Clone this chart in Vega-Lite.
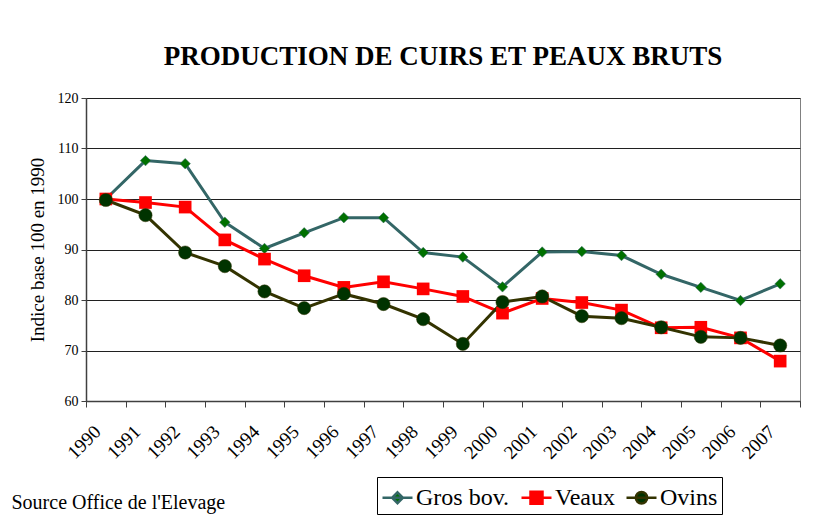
{
  "$schema": "https://vega.github.io/schema/vega-lite/v6.json",
  "width": 714,
  "height": 303,
  "autosize": {"type": "none"},
  "padding": {"left": 86, "top": 98, "right": 14, "bottom": 114},
  "background": "white",
  "title": {
    "text": "PRODUCTION DE CUIRS ET PEAUX BRUTS",
    "font": "Liberation Serif",
    "fontSize": 27,
    "fontWeight": "bold",
    "color": "black",
    "anchor": "middle",
    "offset": 20
  },
  "config": {
    "font": "Liberation Serif",
    "view": {"stroke": "#808080", "strokeWidth": 1},
    "axis": {"labelFont": "Liberation Serif", "titleFont": "Liberation Serif", "labelColor": "black", "titleColor": "black"},
    "legend": {"labelFont": "Liberation Serif", "titleFont": "Liberation Serif"}
  },
  "data": {
    "values": [
      {"annee": "1990", "serie": "Gros bov.", "indice": 100},
      {"annee": "1991", "serie": "Gros bov.", "indice": 107.6},
      {"annee": "1992", "serie": "Gros bov.", "indice": 107.0},
      {"annee": "1993", "serie": "Gros bov.", "indice": 95.4},
      {"annee": "1994", "serie": "Gros bov.", "indice": 90.2},
      {"annee": "1995", "serie": "Gros bov.", "indice": 93.3},
      {"annee": "1996", "serie": "Gros bov.", "indice": 96.3},
      {"annee": "1997", "serie": "Gros bov.", "indice": 96.3},
      {"annee": "1998", "serie": "Gros bov.", "indice": 89.4},
      {"annee": "1999", "serie": "Gros bov.", "indice": 88.5},
      {"annee": "2000", "serie": "Gros bov.", "indice": 82.6},
      {"annee": "2001", "serie": "Gros bov.", "indice": 89.5},
      {"annee": "2002", "serie": "Gros bov.", "indice": 89.6},
      {"annee": "2003", "serie": "Gros bov.", "indice": 88.8},
      {"annee": "2004", "serie": "Gros bov.", "indice": 85.1},
      {"annee": "2005", "serie": "Gros bov.", "indice": 82.5},
      {"annee": "2006", "serie": "Gros bov.", "indice": 79.9},
      {"annee": "2007", "serie": "Gros bov.", "indice": 83.2},
      {"annee": "1990", "serie": "Veaux", "indice": 100},
      {"annee": "1991", "serie": "Veaux", "indice": 99.3},
      {"annee": "1992", "serie": "Veaux", "indice": 98.4},
      {"annee": "1993", "serie": "Veaux", "indice": 91.9},
      {"annee": "1994", "serie": "Veaux", "indice": 88.1},
      {"annee": "1995", "serie": "Veaux", "indice": 84.8},
      {"annee": "1996", "serie": "Veaux", "indice": 82.5},
      {"annee": "1997", "serie": "Veaux", "indice": 83.6},
      {"annee": "1998", "serie": "Veaux", "indice": 82.2},
      {"annee": "1999", "serie": "Veaux", "indice": 80.7},
      {"annee": "2000", "serie": "Veaux", "indice": 77.4},
      {"annee": "2001", "serie": "Veaux", "indice": 80.3},
      {"annee": "2002", "serie": "Veaux", "indice": 79.5},
      {"annee": "2003", "serie": "Veaux", "indice": 78.0},
      {"annee": "2004", "serie": "Veaux", "indice": 74.5},
      {"annee": "2005", "serie": "Veaux", "indice": 74.6},
      {"annee": "2006", "serie": "Veaux", "indice": 72.5},
      {"annee": "2007", "serie": "Veaux", "indice": 67.9},
      {"annee": "1990", "serie": "Ovins", "indice": 99.8},
      {"annee": "1991", "serie": "Ovins", "indice": 96.8},
      {"annee": "1992", "serie": "Ovins", "indice": 89.4},
      {"annee": "1993", "serie": "Ovins", "indice": 86.7},
      {"annee": "1994", "serie": "Ovins", "indice": 81.7},
      {"annee": "1995", "serie": "Ovins", "indice": 78.4},
      {"annee": "1996", "serie": "Ovins", "indice": 81.2},
      {"annee": "1997", "serie": "Ovins", "indice": 79.2},
      {"annee": "1998", "serie": "Ovins", "indice": 76.2},
      {"annee": "1999", "serie": "Ovins", "indice": 71.3},
      {"annee": "2000", "serie": "Ovins", "indice": 79.6},
      {"annee": "2001", "serie": "Ovins", "indice": 80.7},
      {"annee": "2002", "serie": "Ovins", "indice": 76.8},
      {"annee": "2003", "serie": "Ovins", "indice": 76.4},
      {"annee": "2004", "serie": "Ovins", "indice": 74.6},
      {"annee": "2005", "serie": "Ovins", "indice": 72.7},
      {"annee": "2006", "serie": "Ovins", "indice": 72.5},
      {"annee": "2007", "serie": "Ovins", "indice": 71.0}
    ]
  },
  "encoding": {
    "x": {
      "field": "annee",
      "type": "ordinal",
      "scale": {"type": "band", "paddingInner": 0, "paddingOuter": 0},
      "axis": {
        "title": "Source Office de l'Elevage",
        "titleFontSize": 20,
        "titleFontWeight": "normal",
        "titleAnchor": "start",
        "titleAlign": "left",
        "titleBaseline": "alphabetic",
        "titleX": -75,
        "titleY": 107,
        "labelAngle": -45,
        "labelFontSize": 19,
        "labelPadding": 15,
        "labelOffset": -15,
        "tickBand": "extent",
        "tickSize": 6,
        "tickColor": "#404040",
        "domainColor": "#404040",
        "domainWidth": 1.5,
        "grid": false
      }
    },
    "y": {
      "field": "indice",
      "type": "quantitative",
      "scale": {"domain": [60, 120], "nice": false, "zero": false},
      "axis": {
        "title": "Indice base 100 en 1990",
        "titleFontSize": 19,
        "titleFontWeight": "normal",
        "titlePadding": 10,
        "values": [60, 70, 80, 90, 100, 110, 120],
        "labelFontSize": 14,
        "labelPadding": 3,
        "tickSize": 5,
        "tickColor": "#404040",
        "domainColor": "#404040",
        "domainWidth": 1.5,
        "grid": true,
        "gridColor": "#202020",
        "gridWidth": 1
      }
    }
  },
  "layer": [
    {
      "mark": {"type": "line", "strokeWidth": 3},
      "encoding": {
        "stroke": {
          "field": "serie",
          "type": "nominal",
          "sort": ["Gros bov.", "Veaux", "Ovins"],
          "scale": {"domain": ["Gros bov.", "Veaux", "Ovins"], "range": ["#336666", "#ff0000", "#333300"]},
          "legend": {
            "title": null,
            "orient": "none",
            "legendX": 291,
            "legendY": 379,
            "direction": "horizontal",
            "labelFontSize": 24,
            "labelColor": "black",
            "labelFont": "Liberation Serif",
            "symbolSize": 900,
            "symbolStrokeWidth": 3,
            "columnPadding": 6,
            "labelOffset": 2,
            "padding": 4,
            "strokeColor": "black",
            "fillColor": "white",
            "encode": {
              "symbols": {
                "update": {
                  "shape": {"signal": "datum.value === 'Gros bov.' ? 'M-1,0H1M0,-0.36L0.36,0L0,0.36L-0.36,0Z' : datum.value === 'Veaux' ? 'M-1,0H1M-0.4,-0.4H0.4V0.4H-0.4Z' : 'M-1,0H1M0.38,0A0.38,0.38,0,1,1,-0.38,0A0.38,0.38,0,1,1,0.38,0Z'"},
                  "fill": {"signal": "datum.value === 'Gros bov.' ? '#007000' : datum.value === 'Veaux' ? '#ff0000' : '#003300'"},
                  "fillOpacity": {"value": 1},
                  "strokeWidth": {"value": 2.5}
                }
              },
              "labels": {
                "update": {
                  "font": {"value": "Liberation Serif"},
                  "fontSize": {"value": 24},
                  "fill": {"value": "black"}
                }
              }
            }
          }
        }
      }
    },
    {
      "transform": [{"filter": "datum.serie === 'Gros bov.'"}],
      "mark": {"type": "point", "filled": true, "opacity": 1, "shape": "diamond", "size": 110, "fill": "#007000", "stroke": "#336666", "strokeWidth": 0.5}
    },
    {
      "transform": [{"filter": "datum.serie === 'Veaux'"}],
      "mark": {"type": "point", "filled": true, "opacity": 1, "shape": "square", "size": 160, "fill": "#ff0000"}
    },
    {
      "transform": [{"filter": "datum.serie === 'Ovins'"}],
      "mark": {"type": "point", "filled": true, "opacity": 1, "shape": "circle", "size": 175, "fill": "#003300", "stroke": "#333300", "strokeWidth": 0.5}
    }
  ]
}
